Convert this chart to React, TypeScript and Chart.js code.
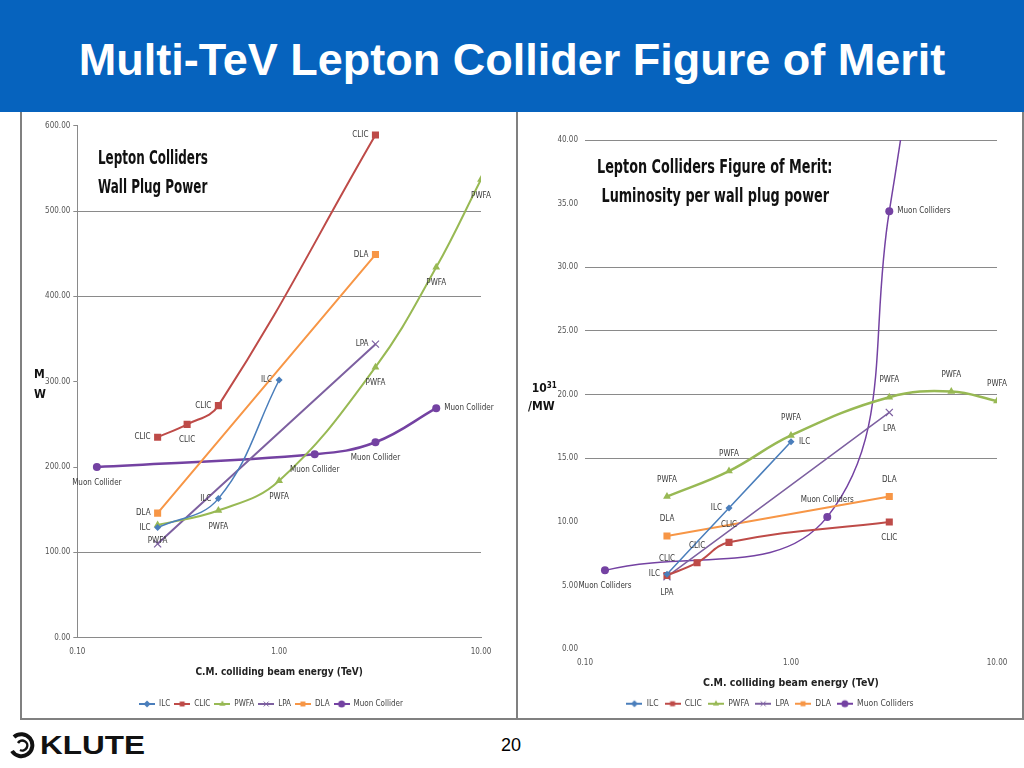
import React, { useEffect, useRef } from 'react';
import { Chart, registerables } from 'chart.js';

Chart.register(...registerables);

// ---------- data ----------
const ENERGY_TICKS = [0.1, 1, 10];

// Left chart: wall plug power (MW)
const POWER_TICKS = [0, 100, 200, 300, 400, 500, 600];
const POWER_GRID_VALUES = [0, 100, 400, 500];
const ILC_POWER_E = [0.25, 0.5, 1.0];
const ILC_POWER = [129, 163, 302];
const CLIC_POWER_E = [0.25, 0.35, 0.5, 3.0];
const CLIC_POWER = [235, 250, 272, 589];
const PWFA_POWER_E = [0.25, 0.5, 1.0, 3.0, 6.0, 10.0];
const PWFA_POWER = [132, 149, 184, 317, 434, 537];
const LPA_POWER_E = [0.25, 3.0];
const LPA_POWER = [110, 344];
const DLA_POWER_E = [0.25, 3.0];
const DLA_POWER = [146, 449];
const MUON_POWER_E = [0.125, 1.5, 3.0, 6.0];
const MUON_POWER = [200, 215, 229, 269];

const ILC_POWER_TAGS = ['left', 'left', 'left'];
const CLIC_POWER_TAGS = ['left', 'below', 'left', 'left'];
const PWFA_POWER_TAGS = ['below', 'below', 'below', 'below', 'below', 'below'];
const LPA_POWER_TAGS = ['none', 'left'];
const DLA_POWER_TAGS = ['left', 'left'];
const MUON_POWER_TAGS = ['below', 'below', 'below', 'right'];

// Right chart: luminosity per wall plug power (10^31 / MW)
const MERIT_TICKS = [0, 5, 10, 15, 20, 25, 30, 35, 40];
const MERIT_GRID_VALUES = [15, 20, 25, 30, 40];
const ILC_MERIT_E = [0.25, 0.5, 1.0];
const ILC_MERIT = [5.9, 11.1, 16.3];
const CLIC_MERIT_E = [0.25, 0.35, 0.5, 3.0];
const CLIC_MERIT = [5.8, 6.8, 8.4, 10.0];
const PWFA_MERIT_E = [0.25, 0.5, 1.0, 3.0, 6.0, 10.0];
const PWFA_MERIT = [12.0, 14.0, 16.8, 19.8, 20.25, 19.5];
const LPA_MERIT_E = [0.25, 3.0];
const LPA_MERIT = [5.7, 18.6];
const DLA_MERIT_E = [0.25, 3.0];
const DLA_MERIT = [8.9, 12.0];
const MUON_MERIT_E = [0.125, 1.5, 3.0, 6.0];
const MUON_MERIT = [6.2, 10.4, 34.4, 70];

const ILC_MERIT_TAGS = ['left', 'left', 'right'];
const CLIC_MERIT_TAGS = ['above', 'above', 'above', 'below'];
const PWFA_MERIT_TAGS = ['above', 'above', 'above', 'above', 'above', 'above'];
const LPA_MERIT_TAGS = ['below', 'below'];
const DLA_MERIT_TAGS = ['above', 'above'];
const MUON_MERIT_TAGS = ['below', 'above', 'right', 'none'];

// ---------- styles ----------
const NARROW = "'Liberation Sans Narrow', 'DejaVu Sans Condensed', 'Liberation Sans', sans-serif";
const COLORS = {
  ILC: '#4A7EBB',
  CLIC: '#BE4B48',
  PWFA: '#98B954',
  LPA: '#7D60A0',
  DLA: '#F79646',
  MUON: '#7442A2',
};
const GRID = '#8a8a8a';

function drawMarker(g: CanvasRenderingContext2D, style: string, x: number, y: number, r: number, color: string) {
  g.fillStyle = color;
  g.strokeStyle = color;
  g.beginPath();
  if (style === 'rect') {
    const s = r * Math.SQRT1_2;
    g.rect(x - s, y - s, 2 * s, 2 * s);
    g.fill();
  } else if (style === 'rectRot') {
    g.moveTo(x, y - r); g.lineTo(x + r, y); g.lineTo(x, y + r); g.lineTo(x - r, y); g.closePath();
    g.fill();
  } else if (style === 'triangle') {
    g.moveTo(x, y - r); g.lineTo(x + r * 0.87, y + r * 0.5); g.lineTo(x - r * 0.87, y + r * 0.5); g.closePath();
    g.fill();
  } else if (style === 'circle') {
    g.arc(x, y, r, 0, Math.PI * 2);
    g.fill();
  } else if (style === 'crossRot') {
    const s = r * 0.7;
    g.lineWidth = 1;
    g.moveTo(x - s, y - s); g.lineTo(x + s, y + s);
    g.moveTo(x + s, y - s); g.lineTo(x - s, y + s);
    g.stroke();
  }
}

const ICON_W = 16;

function legendIcon(color: string, style: string) {
  const c = document.createElement('canvas');
  c.width = ICON_W; c.height = 10;
  const g = c.getContext('2d')!;
  g.strokeStyle = color; g.lineWidth = 2;
  g.beginPath(); g.moveTo(0, 5); g.lineTo(ICON_W, 5); g.stroke();
  drawMarker(g, style, ICON_W / 2, 5, 3.5, color);
  return c;
}

function series(label: string, xs: number[], ys: number[], tags: string[], color: string, pointStyle: string, radius: number, width: number) {
  return {
    label,
    data: xs.map((x, i) => ({ x, y: ys[i] })),
    tags,
    borderColor: color,
    backgroundColor: color,
    pointStyle,
    pointRadius: radius,
    pointBorderWidth: pointStyle === 'crossRot' ? 1.2 : 0,
    borderWidth: width,
    tension: 0.4,
    fill: false,
  };
}

const pointLabelPlugin = {
  id: 'pointLabels',
  afterDatasetsDraw(chart: any) {
    const ctx = chart.ctx;
    const area = chart.chartArea;
    ctx.save();
    ctx.font = `8px ${NARROW}`;
    ctx.fillStyle = '#3a3a3a';
    ctx.textBaseline = 'middle';
    chart.data.datasets.forEach((ds: any, di: number) => {
      const meta = chart.getDatasetMeta(di);
      meta.data.forEach((pt: any, i: number) => {
        const tag = ds.tags ? ds.tags[i] : 'none';
        if (!tag || tag === 'none') return;
        const { x, y } = pt;
        if (y < area.top || y > area.bottom) return;
        let tx = x, ty = y, align = 'center';
        if (tag === 'left') { tx = x - 7; align = 'right'; }
        else if (tag === 'right') { tx = x + 8; align = 'left'; }
        else if (tag === 'above') { ty = y - 17; }
        else if (tag === 'below') { ty = y + 16; }
        ctx.textAlign = align;
        ctx.fillText(ds.label, tx, ty);
      });
    });
    ctx.restore();
  },
};

// moves the legend sideways so it is centred under the whole chart panel
const legendShiftPlugin = {
  id: 'legendShift',
  afterLayout(chart: any, _args: any, opts: any) {
    const l = chart.legend;
    if (l && opts && opts.dx) {
      l.left += opts.dx;
      l.right += opts.dx;
    }
  },
};

const MARKERS: Record<string, string> = {
  ILC: 'rectRot', CLIC: 'rect', PWFA: 'triangle', LPA: 'crossRot', DLA: 'rect', MUON: 'circle',
};

function buildConfig(kind: 'power' | 'merit') {
  const p = kind === 'power';
  const datasets = p
    ? [
        series('ILC', ILC_POWER_E, ILC_POWER, ILC_POWER_TAGS, COLORS.ILC, 'rectRot', 3.5, 1.5),
        series('CLIC', CLIC_POWER_E, CLIC_POWER, CLIC_POWER_TAGS, COLORS.CLIC, 'rect', 5, 2),
        series('PWFA', PWFA_POWER_E, PWFA_POWER, PWFA_POWER_TAGS, COLORS.PWFA, 'triangle', 4.5, 2),
        series('LPA', LPA_POWER_E, LPA_POWER, LPA_POWER_TAGS, COLORS.LPA, 'crossRot', 5, 2),
        series('DLA', DLA_POWER_E, DLA_POWER, DLA_POWER_TAGS, COLORS.DLA, 'rect', 5, 2),
        series('Muon Collider', MUON_POWER_E, MUON_POWER, MUON_POWER_TAGS, COLORS.MUON, 'circle', 4, 2.5),
      ]
    : [
        series('ILC', ILC_MERIT_E, ILC_MERIT, ILC_MERIT_TAGS, COLORS.ILC, 'rectRot', 3.5, 1.5),
        series('CLIC', CLIC_MERIT_E, CLIC_MERIT, CLIC_MERIT_TAGS, COLORS.CLIC, 'rect', 5, 2),
        series('PWFA', PWFA_MERIT_E, PWFA_MERIT, PWFA_MERIT_TAGS, COLORS.PWFA, 'triangle', 4.5, 2.5),
        series('LPA', LPA_MERIT_E, LPA_MERIT, LPA_MERIT_TAGS, COLORS.LPA, 'crossRot', 5, 1.5),
        series('DLA', DLA_MERIT_E, DLA_MERIT, DLA_MERIT_TAGS, COLORS.DLA, 'rect', 5, 2),
        series('Muon Colliders', MUON_MERIT_E, MUON_MERIT, MUON_MERIT_TAGS, COLORS.MUON, 'circle', 4, 1.5),
      ];
  const keys = ['ILC', 'CLIC', 'PWFA', 'LPA', 'DLA', 'MUON'];
  const icons = keys.map((k) => legendIcon((COLORS as any)[k], MARKERS[k]));
  const yTicks = p ? POWER_TICKS : MERIT_TICKS;
  const yGrid = p ? POWER_GRID_VALUES : MERIT_GRID_VALUES;

  return {
    type: 'line',
    data: { datasets },
    plugins: [pointLabelPlugin, legendShiftPlugin],
    options: {
      animation: false,
      responsive: false,
      maintainAspectRatio: false,
      layout: { padding: p ? { left: 0, right: 36, top: 12.7, bottom: 2 } : { left: 0, right: 24, top: 27, bottom: 2 } },
      elements: { line: { capBezierPoints: false } },
      plugins: {
        tooltip: { enabled: false },
        legendShift: { dx: p ? 20 : 12 },
        legend: {
          position: 'bottom',
          labels: {
            usePointStyle: true,
            pointStyleWidth: ICON_W,
            padding: p ? 4 : 6,
            color: '#444',
            font: { size: p ? 8 : 8.5, family: NARROW },
            generateLabels: (chart: any) =>
              chart.data.datasets.map((ds: any, i: number) => ({
                text: ds.label,
                pointStyle: icons[i],
                fillStyle: ds.borderColor,
                strokeStyle: ds.borderColor,
                lineWidth: 0,
                hidden: false,
                datasetIndex: i,
                fontColor: '#444',
              })),
          },
        },
      },
      scales: {
        x: {
          type: 'logarithmic',
          min: 0.1,
          max: 10,
          afterBuildTicks: (s: any) => { s.ticks = ENERGY_TICKS.map((v) => ({ value: v })); },
          afterFit: (s: any) => { s.height = p ? 58.3 : 44.2; },
          grid: { display: false, drawTicks: false },
          border: { display: p, color: GRID, width: 1 },
          ticks: {
            autoSkip: false,
            maxRotation: 0,
            padding: 9,
            color: '#555',
            font: { size: 8, family: NARROW },
            callback: (v: any) => Number(v).toFixed(2),
          },
          title: {
            display: true,
            text: 'C.M. colliding beam energy (TeV)',
            color: '#222',
            font: { size: p ? 10 : 10.5, weight: 'bold', family: NARROW },
            padding: { top: 0, bottom: p ? 18 : 4.2 },
          },
        },
        y: {
          type: 'linear',
          min: 0,
          max: p ? 600 : 40,
          afterBuildTicks: (s: any) => { s.ticks = yTicks.map((v) => ({ value: v })); },
          afterFit: (s: any) => { s.width = p ? 56.3 : 66; },
          grid: {
            color: (c: any) => (c.tick && yGrid.includes(c.tick.value) ? GRID : 'rgba(0,0,0,0)'),
            tickColor: p ? GRID : 'rgba(0,0,0,0)',
            drawTicks: p,
            tickLength: 4,
            lineWidth: 1,
          },
          border: { display: p, color: GRID, width: 1 },
          ticks: {
            padding: p ? 3 : 7,
            color: '#555',
            font: { size: 8, family: NARROW },
            callback: (v: any) => Number(v).toFixed(2),
          },
        },
      },
    },
  };
}

function ChartBox({ kind, left, top, width, height }: { kind: 'power' | 'merit'; left: number; top: number; width: number; height: number }) {
  const ref = useRef<HTMLCanvasElement>(null);
  useEffect(() => {
    const chart = new Chart(ref.current as HTMLCanvasElement, buildConfig(kind) as any);
    return () => chart.destroy();
  }, [kind]);
  return (
    <canvas
      ref={ref}
      width={width}
      height={height}
      style={{ position: 'absolute', left, top, width, height }}
    />
  );
}

const abs = (s: React.CSSProperties): React.CSSProperties => ({ position: 'absolute', ...s });

export default function App() {
  useEffect(() => {
    document.body.style.margin = '0';
  }, []);
  const chartTitle: React.CSSProperties = {
    fontFamily: NARROW,
    fontWeight: 'bold',
    fontSize: 19,
    color: '#111',
    whiteSpace: 'nowrap',
    lineHeight: '29px',
    transformOrigin: 'left top',
  };
  return (
    <div style={{ position: 'fixed', left: 0, top: 0, width: 1024, height: 768, background: '#fff', overflow: 'hidden', fontFamily: "'Liberation Sans', Arial, sans-serif" }}>
      <div style={abs({ left: 0, top: 0, width: 1024, height: 112, background: '#0663BE' })} />
      <div style={abs({ left: 0, top: 34, width: 1024, textAlign: 'center', color: '#fff', fontWeight: 'bold', fontSize: 45, lineHeight: '52px', whiteSpace: 'nowrap' })}>
        Multi-TeV Lepton Collider Figure of Merit
      </div>

      <div style={abs({ left: 20, top: 112, width: 498, height: 608, borderLeft: '2px solid #808080', borderRight: '2px solid #808080', borderBottom: '2px solid #808080', boxSizing: 'border-box' })} />
      <div style={abs({ left: 516, top: 112, width: 508, height: 608, borderRight: '2px solid #808080', borderBottom: '2px solid #808080', boxSizing: 'border-box' })} />

      <ChartBox kind="power" left={21} top={113} width={496} height={607} />
      <ChartBox kind="merit" left={519} top={113} width={502} height={607} />

      <div style={abs({ left: 98, top: 143, ...chartTitle, transform: 'scaleX(0.7)' })}>
        Lepton Colliders<br />Wall Plug Power
      </div>
      <div style={abs({ left: 597, top: 152, ...chartTitle, transform: 'scaleX(0.75)' })}>
        Lepton Colliders Figure of Merit:<br />&nbsp;Luminosity per wall plug power
      </div>

      <div style={abs({ left: 34, top: 364, fontFamily: NARROW, fontWeight: 'bold', fontSize: 12, lineHeight: '20px', color: '#111' })}>
        M<br />W
      </div>
      <div style={abs({ left: 528, top: 377, fontFamily: NARROW, fontWeight: 'bold', fontSize: 12, lineHeight: '18px', color: '#111' })}>
        &nbsp;10<sup style={{ fontSize: 8, verticalAlign: 4 }}>31</sup><br />/MW
      </div>

      <svg style={abs({ left: 8, top: 731, width: 32, height: 28 })} viewBox="0 0 32 28">
        <path d="M6 6 A11 11 0 1 1 4 20" fill="none" stroke="#111" strokeWidth="4" />
        <path d="M10 12 A5 5 0 1 1 12 19" fill="none" stroke="#111" strokeWidth="2.5" />
      </svg>
      <div style={abs({ left: 40, top: 730, fontSize: 25, fontWeight: 'bold', color: '#111', lineHeight: '30px', transform: 'scaleX(1.26)', transformOrigin: 'left top' })}>
        KLUTE
      </div>
      <div style={abs({ left: 501, top: 733, fontSize: 18, color: '#000', lineHeight: '24px' })}>20</div>
    </div>
  );
}
